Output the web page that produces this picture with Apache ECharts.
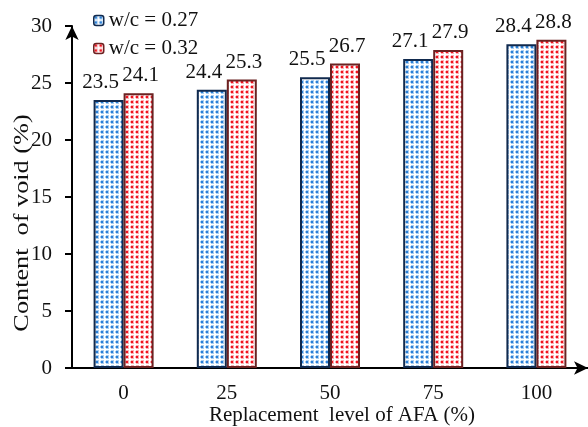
<!DOCTYPE html>
<html>
<head>
<meta charset="utf-8">
<script src="https://cdn.jsdelivr.net/npm/echarts@6/dist/echarts.min.js"></script>
<style>
  html, body { margin: 0; padding: 0; background: #fff; }
  #chart { width: 588px; height: 427px; }
</style>
</head>
<body>
<div id="chart"></div>
<script>
// Replacement levels of AFA (%) and void content for two water/cement ratios
const categories = ['0', '25', '50', '75', '100'];
const voidWc027 = [23.5, 24.4, 25.5, 27.1, 28.4];
const voidWc032 = [24.1, 25.3, 26.7, 27.9, 28.8];
const seriesNames = ['w/c = 0.27', 'w/c = 0.32'];

const FONT = '"Liberation Serif", "DejaVu Serif", serif';

// Dotted fill tile used for the bar patterns
function dotPattern(dot, halo) {
  const c = document.createElement('canvas');
  c.width = 5; c.height = 5;
  const g = c.getContext('2d');
  g.fillStyle = '#ffffff';
  g.fillRect(0, 0, 5, 5);
  g.fillStyle = halo;
  g.fillRect(1, 0, 3, 4);
  g.fillRect(0, 1, 4, 2);
  g.fillStyle = dot;
  g.fillRect(1, 1, 2, 2);
  return { image: c, repeat: 'repeat' };
}

const chart = echarts.init(document.getElementById('chart'), null, { renderer: 'canvas' });

const labelBase = {
  show: true,
  position: 'top',
  distance: 7,
  color: '#111',
  fontFamily: FONT,
  fontSize: 21
};

chart.setOption({
  animation: false,
  backgroundColor: '#ffffff',
  grid: {
    left: 72, right: 0, top: 26, bottom: 59,
    containLabel: false,
    outerBoundsMode: 'none'
  },
  legend: {
    left: 88,
    top: 5,
    orient: 'vertical',
    itemWidth: 10,
    itemHeight: 10,
    itemGap: 7,
    itemStyle: { borderWidth: 1.5 },
    textStyle: { fontFamily: FONT, fontSize: 21, color: '#111' },
    data: seriesNames
  },
  xAxis: {
    type: 'category',
    data: categories,
    axisLine: {
      lineStyle: { color: '#000', width: 2 },
      symbol: ['none', 'arrow'],
      symbolSize: [10, 14]
    },
    axisTick: { alignWithLabel: true, length: 7, lineStyle: { color: '#000', width: 2 } },
    axisLabel: { margin: 15, fontFamily: FONT, fontSize: 21, color: '#111' }
  },
  yAxis: {
    type: 'value',
    min: 0,
    max: 30,
    interval: 5,
    splitLine: { show: false },
    axisLine: {
      show: true,
      lineStyle: { color: '#000', width: 2 },
      symbol: ['none', 'arrow'],
      symbolSize: [10, 14]
    },
    axisTick: { show: true, length: 7, lineStyle: { color: '#000', width: 2 } },
    axisLabel: { margin: 20, fontFamily: FONT, fontSize: 21, color: '#111' }
  },
  graphic: [
    {
      // y-axis title, drawn bottom-to-top
      type: 'text',
      x: 22,
      y: 223,
      rotation: Math.PI / 2,
      scaleX: 1.25,
      style: {
        text: 'Content  of void (%)',
        font: '21px ' + FONT,
        fill: '#111',
        align: 'center',
        verticalAlign: 'middle'
      }
    },
    {
      // x-axis title
      type: 'text',
      x: 342,
      y: 415,
      style: {
        text: 'Replacement  level of AFA (%)',
        font: '21px ' + FONT,
        fill: '#111',
        align: 'center',
        verticalAlign: 'middle'
      }
    }
  ],
  series: [
    {
      name: seriesNames[0],
      type: 'bar',
      data: voidWc027,
      barWidth: 30,
      barGap: '0%',
      itemStyle: {
        color: dotPattern('#2a7fd6', '#a9cdf0'),
        borderColor: '#112a4e',
        borderWidth: 2
      },
      label: Object.assign({}, labelBase, { offset: [-8, 0] })
    },
    {
      name: seriesNames[1],
      type: 'bar',
      data: voidWc032,
      barWidth: 30,
      barGap: '0%',
      itemStyle: {
        color: dotPattern('#f01420', '#fbb0b4'),
        borderColor: '#6b2222',
        borderWidth: 2
      },
      label: Object.assign({}, labelBase, { offset: [2, 0] })
    }
  ]
});
</script>
</body>
</html>
